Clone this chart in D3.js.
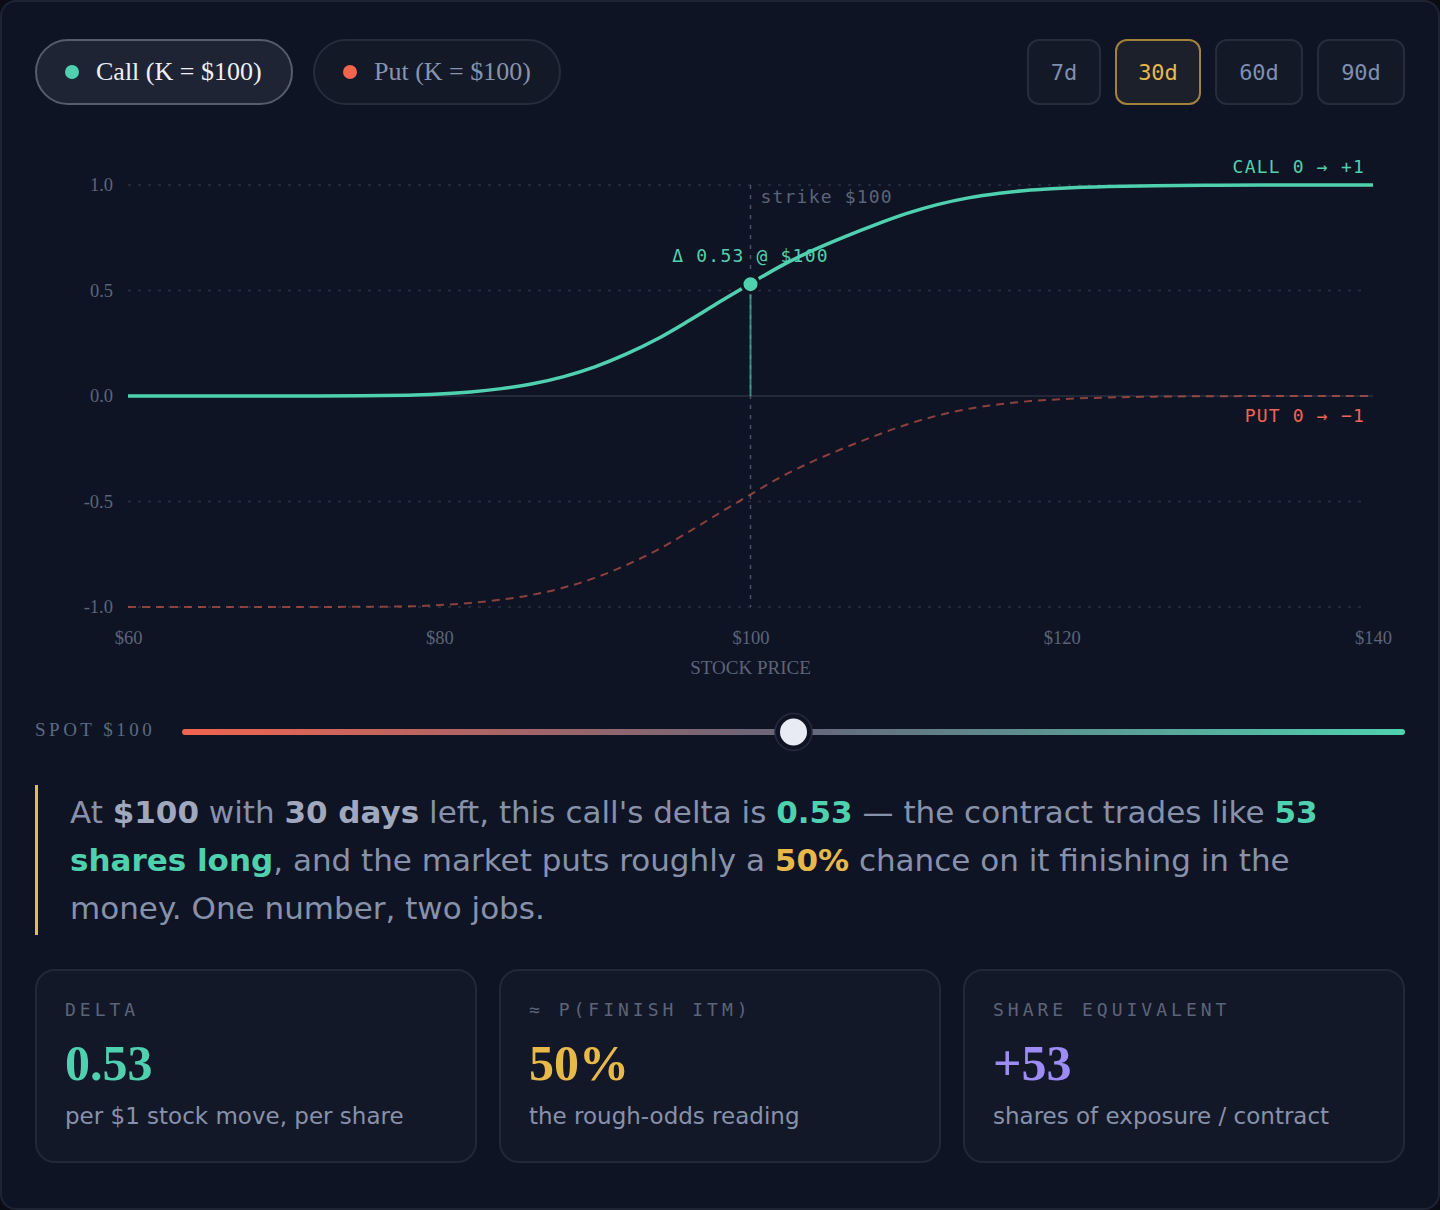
<!DOCTYPE html>
<html>
<head>
<meta charset="utf-8">
<script src="https://cdn.jsdelivr.net/npm/d3@7"></script>
<style>
  html, body { margin: 0; padding: 0; background: #0a0d16; }
  #frame {
    position: relative; width: 1436px; height: 1206px;
    background: #0f1424; border: 2px solid #1e2433; border-radius: 16px;
    overflow: hidden; font-family: "DejaVu Sans", sans-serif;
  }
  .pill {
    position: absolute; top: 37px; height: 62px; box-sizing: border-box;
    border-radius: 33px; display: flex; align-items: center;
    font-family: "Liberation Serif", serif; font-size: 26px;
  }
  .pill .dot { width: 14px; height: 14px; border-radius: 50%; margin-right: 17px; }
  .day {
    position: absolute; top: 37px; height: 66px; box-sizing: border-box;
    border-radius: 12px; border: 2px solid #252c3c; background: #131927;
    font-family: "DejaVu Sans Mono", monospace; font-size: 22px; color: #7f8fb0;
    display: flex; align-items: center; justify-content: center;
  }
  .day.active { border-color: #a2813b; background: #1c202b; color: #e8b84a; }
  #chart { position: absolute; left: -2px; top: -2px; }
  #note {
    position: absolute; left: 33px; top: 783px; width: 1335px;
    border-left: 3px solid #e8b84a; padding: 3px 0 3px 32px;
    font-size: 31px; line-height: 48px; color: #8891aa;
  }
  #note b { color: #a0a8bd; }
  #note b.t { color: #4fd1b0; }
  #note b.g { color: #e8b84a; }
  .card {
    position: absolute; top: 967px; width: 442px; height: 194px; box-sizing: border-box;
    border: 2px solid #222838; border-radius: 20px; background: #131828;
  }
  .card .lab {
    position: absolute; left: 28px; top: 28px;
    font-family: "DejaVu Sans Mono", monospace; font-size: 18px; letter-spacing: 4px; color: #5c6478;
  }
  .card .num {
    position: absolute; left: 28px; top: 62px; font-weight: 600;
    font-family: "Liberation Serif", serif; font-size: 50px; line-height: 60px;
  }
  .card .sub {
    position: absolute; left: 28px; top: 132px; font-size: 23px; color: #8891aa;
  }
</style>
</head>
<body>
<div id="frame">
  <div id="pills"></div>
  <div id="days"></div>
  <svg id="chart" width="1440" height="780"></svg>
  <div id="note"></div>
  <div id="cards"></div>
</div>
<script>
// values
var prices    = [60, 65, 70, 75, 78, 80, 82, 84, 86, 88, 90, 92, 94, 96, 98, 100, 102, 104, 106, 108, 110, 112, 114, 116, 118, 120, 123, 126, 130, 135, 140];
var callDelta = [0, 0, 0, 0.001, 0.003, 0.009, 0.019, 0.035, 0.058, 0.092, 0.138, 0.198, 0.27, 0.355, 0.445, 0.533, 0.618, 0.69, 0.753, 0.811, 0.864, 0.907, 0.939, 0.961, 0.976, 0.985, 0.993, 0.997, 0.999, 1, 1];
var putDelta  = [-1, -1, -1, -0.999, -0.997, -0.991, -0.981, -0.965, -0.942, -0.908, -0.862, -0.802, -0.73, -0.645, -0.555, -0.467, -0.382, -0.31, -0.247, -0.189, -0.136, -0.093, -0.061, -0.039, -0.024, -0.015, -0.007, -0.003, -0.001, 0, 0];
var yTicks = [-1, -0.5, 0, 0.5, 1];
var xTicks = [60, 80, 100, 120, 140];
var days = ["7d", "30d", "60d", "90d"];
var activeDay = "30d";
var strike = 100, spot = 100, spotDelta = 0.53;
var spotRange = [60, 140];

var teal = "#4fd1b0", red = "#f26450", gold = "#e8b84a";

// option toggles
var pills = [
  {label: "Call (K = $100)", color: teal, left: 33, width: 258, on: true},
  {label: "Put (K = $100)", color: red, left: 311, width: 248, on: false}
];
d3.select("#pills").selectAll(".pill").data(pills).enter().append("div")
  .attr("class", "pill")
  .style("left", d => d.left + "px")
  .style("width", d => d.width + "px")
  .style("height", "66px")
  .style("padding-left", "28px")
  .style("background", d => d.on ? "#1f2435" : "#131927")
  .style("border", d => d.on ? "2px solid #565c6a" : "2px solid #252c3c")
  .style("color", d => d.on ? "#eef0f6" : "#8a93ad")
  .each(function(d) {
    var el = d3.select(this);
    el.append("span").attr("class", "dot").style("background", d.color);
    el.append("span").text(d.label);
  });

// expiry buttons
var dayPos = [[1025, 74], [1113, 86], [1213, 88], [1315, 88]];
d3.select("#days").selectAll(".day").data(days).enter().append("div")
  .attr("class", d => d == activeDay ? "day active" : "day")
  .style("left", (d, i) => dayPos[i][0] + "px")
  .style("width", (d, i) => dayPos[i][1] + "px")
  .text(d => d);

// chart
var svg = d3.select("#chart");
var x = d3.scaleLinear().domain([60, 140]).range([128, 1373]);
var y = d3.scaleLinear().domain([-1, 1]).range([607, 185]);

svg.selectAll(".grid").data(yTicks.filter(d => d != 0)).enter().append("line")
  .attr("x1", x(60)).attr("x2", 1365)
  .attr("y1", d => y(d)).attr("y2", d => y(d))
  .attr("stroke", "#283043").attr("stroke-width", 1.5).attr("stroke-dasharray", "3,7");

svg.append("line")
  .attr("x1", x(60)).attr("x2", x(140)).attr("y1", y(0)).attr("y2", y(0))
  .attr("stroke", "#222938").attr("stroke-width", 2);

var yAxis = svg.append("g").attr("transform", "translate(" + x(60) + ",0)")
  .call(d3.axisLeft(y).tickValues(yTicks).tickSize(0).tickPadding(15).tickFormat(d => d.toFixed(1)));
var xAxis = svg.append("g").attr("transform", "translate(0," + y(-1) + ")")
  .call(d3.axisBottom(x).tickValues(xTicks).tickSize(0).tickPadding(24).tickFormat(d => "$" + d));
[yAxis, xAxis].forEach(function(g) {
  g.select(".domain").remove();
  g.selectAll("text").attr("fill", "#5c6478").style("font-family", "Liberation Serif, serif").style("font-size", "18.5px");
});

svg.append("text").attr("x", (x(60) + x(140)) / 2).attr("y", 674).attr("text-anchor", "middle")
  .attr("fill", "#5c6478").style("font-family", "Liberation Serif, serif").style("font-size", "19px")
  .text("STOCK PRICE");

// strike marker
svg.append("line")
  .attr("x1", x(strike)).attr("x2", x(strike)).attr("y1", y(1)).attr("y2", y(-1))
  .attr("stroke", "#4a5266").attr("stroke-width", 1.5).attr("stroke-dasharray", "4,6");

var mono = "DejaVu Sans Mono, monospace";
svg.append("text").attr("x", x(strike) + 10).attr("y", 203)
  .attr("fill", "#5c6478").style("font-family", mono).style("font-size", "18px").style("letter-spacing", "1.2px")
  .text("strike $" + strike);

var line = d3.line().x(d => x(d[0])).y(d => y(d[1])).curve(d3.curveMonotoneX);

svg.append("path").datum(d3.zip(prices, putDelta))
  .attr("d", line).attr("fill", "none")
  .attr("stroke", red).attr("stroke-opacity", 0.55).attr("stroke-width", 2).attr("stroke-dasharray", "8,6");

svg.append("path").datum(d3.zip(prices, callDelta))
  .attr("d", line).attr("fill", "none")
  .attr("stroke", teal).attr("stroke-width", 3.5);

// spot marker
svg.append("line")
  .attr("x1", x(spot)).attr("x2", x(spot)).attr("y1", y(spotDelta)).attr("y2", y(0))
  .attr("stroke", teal).attr("stroke-opacity", 0.6).attr("stroke-width", 2);
svg.append("circle").attr("cx", x(spot)).attr("cy", y(spotDelta)).attr("r", 8.5)
  .attr("fill", teal).attr("stroke", "#0f1424").attr("stroke-width", 3);
svg.append("text").attr("x", x(spot)).attr("y", 262).attr("text-anchor", "middle")
  .attr("fill", teal).style("font-family", mono).style("font-size", "18px").style("letter-spacing", "1.2px")
  .text("Δ " + spotDelta.toFixed(2) + " @ $" + spot);

svg.append("text").attr("x", 1365).attr("y", 173).attr("text-anchor", "end")
  .attr("fill", teal).style("font-family", mono).style("font-size", "18px").style("letter-spacing", "1.2px")
  .text("CALL 0 → +1");
svg.append("text").attr("x", 1365).attr("y", 422).attr("text-anchor", "end")
  .attr("fill", red).style("font-family", mono).style("font-size", "18px").style("letter-spacing", "1.2px")
  .text("PUT 0 → −1");

// spot slider
svg.append("text").attr("x", 35).attr("y", 736)
  .attr("fill", "#5c6a80").style("font-family", "Liberation Serif, serif").style("font-size", "19px").style("letter-spacing", "3.5px")
  .text("SPOT $" + spot);

var grad = svg.append("defs").append("linearGradient").attr("id", "track");
grad.selectAll("stop").data([[0, red], [0.5, "#66667a"], [1, teal]]).enter().append("stop")
  .attr("offset", d => d[0]).attr("stop-color", d => d[1]);

var s = d3.scaleLinear().domain(spotRange).range([182, 1405]);
svg.append("rect").attr("x", s(spotRange[0])).attr("y", 729).attr("width", s(spotRange[1]) - s(spotRange[0])).attr("height", 6)
  .attr("rx", 3).attr("fill", "url(#track)");
svg.append("circle").attr("cx", s(spot)).attr("cy", 732).attr("r", 18.5).attr("fill", "#0f1424").attr("stroke", "#252b3a").attr("stroke-width", 1.5);
svg.append("circle").attr("cx", s(spot)).attr("cy", 732).attr("r", 13.5).attr("fill", "#e9ebf4");

// explanatory note
d3.select("#note").html(
  "At <b>$" + spot + "</b> with <b>30 days</b> left, this call's delta is <b class='t'>" + spotDelta.toFixed(2) +
  "</b> — the contract trades like <b class='t'>" + Math.round(spotDelta * 100) +
  " shares long</b>, and the market puts roughly a <b class='g'>50%</b> chance on it finishing in the money. One number, two jobs.");

// stat cards
var cards = [
  {label: "DELTA", value: spotDelta.toFixed(2), color: teal, sub: "per $1 stock move, per share", left: 33},
  {label: "≈ P(FINISH ITM)", value: "50%", color: gold, sub: "the rough-odds reading", left: 497},
  {label: "SHARE EQUIVALENT", value: "+" + Math.round(spotDelta * 100), color: "#9d8cf5", sub: "shares of exposure / contract", left: 961}
];
var card = d3.select("#cards").selectAll(".card").data(cards).enter().append("div")
  .attr("class", "card").style("left", d => d.left + "px");
card.append("div").attr("class", "lab").text(d => d.label);
card.append("div").attr("class", "num").style("color", d => d.color).text(d => d.value);
card.append("div").attr("class", "sub").text(d => d.sub);
</script>
</body>
</html>
